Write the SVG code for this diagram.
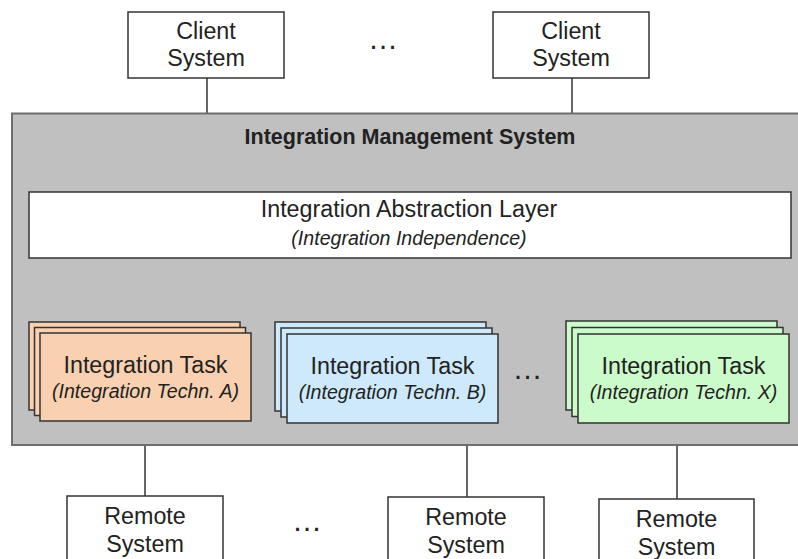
<svg xmlns="http://www.w3.org/2000/svg" width="798" height="559" viewBox="0 0 798 559">
  <style>
    text { font-family: "Liberation Sans", Arial, sans-serif; fill: #222; text-anchor: middle; }
    .lbl { font-size: 23.3px; }
    .sub { font-size: 19.6px; font-style: italic; }
    .title { font-size: 21.5px; font-weight: bold; }
    .dots { font-size: 30px; }
    .box { fill: #fff; stroke: #333; stroke-width: 1.5; }
    .wire { stroke: #333; stroke-width: 1.5; fill: none; }
    .card { stroke: #333; stroke-width: 1.5; }
    .orange { fill: #f9d1b0; }
    .blue { fill: #cde9fb; }
    .green { fill: #ccfbcb; }
  </style>

  <!-- connectors -->
  <g id="connectors">
    <line class="wire" x1="207" y1="78" x2="207" y2="114"/>
    <line class="wire" x1="572" y1="78" x2="572" y2="114"/>
    <line class="wire" x1="134" y1="258" x2="134" y2="322"/>
    <line class="wire" x1="380" y1="258" x2="380" y2="322"/>
    <line class="wire" x1="671" y1="258" x2="671" y2="321"/>
    <line class="wire" x1="145" y1="445" x2="145" y2="496"/>
    <line class="wire" x1="467" y1="445" x2="467" y2="497"/>
    <line class="wire" x1="677" y1="445" x2="677" y2="499"/>
  </g>

  <!-- client systems -->
  <g id="client1">
    <rect class="box" x="128" y="12" width="156" height="66"/>
    <text class="lbl" x="206" y="39">Client</text>
    <text class="lbl" x="206" y="66">System</text>
  </g>
  <text id="client-more" class="dots" x="383" y="49">…</text>
  <g id="client2">
    <rect class="box" x="493" y="12" width="156" height="66"/>
    <text class="lbl" x="571" y="39">Client</text>
    <text class="lbl" x="571" y="66">System</text>
  </g>

  <!-- management system container -->
  <g id="ims">
    <rect x="12" y="113.5" width="800" height="331.5" fill="#c0c0c0" stroke="#6e6e6e" stroke-width="2"/>
    <text class="title" x="410" y="144">Integration Management System</text>
  </g>

  <g id="abstraction-layer">
    <rect class="box" x="29" y="192" width="762" height="66"/>
    <text class="lbl" x="409" y="217">Integration Abstraction Layer</text>
    <text class="sub" x="409" y="245">(Integration Independence)</text>
  </g>

  <!-- integration tasks -->
  <g id="task-a">
    <rect class="card orange" x="29" y="322" width="211" height="88"/>
    <rect class="card orange" x="34.5" y="327.5" width="211" height="88"/>
    <rect class="card orange" x="40" y="333" width="211" height="88"/>
    <text class="lbl" x="145.5" y="373">Integration Task</text>
    <text class="sub" x="145.5" y="398">(Integration Techn. A)</text>
  </g>
  <g id="task-b">
    <rect class="card blue" x="275" y="322" width="211" height="89"/>
    <rect class="card blue" x="281" y="328" width="211" height="89"/>
    <rect class="card blue" x="287" y="334" width="211" height="89"/>
    <text class="lbl" x="392.5" y="374">Integration Task</text>
    <text class="sub" x="392.5" y="399">(Integration Techn. B)</text>
  </g>
  <text id="task-more" class="dots" x="527.5" y="379">…</text>
  <g id="task-x">
    <rect class="card green" x="566" y="321" width="211" height="89"/>
    <rect class="card green" x="572" y="327.5" width="211" height="89"/>
    <rect class="card green" x="578" y="334" width="211" height="89"/>
    <text class="lbl" x="683.5" y="374">Integration Task</text>
    <text class="sub" x="683.5" y="399">(Integration Techn. X)</text>
  </g>

  <!-- remote systems -->
  <g id="remote1">
    <rect class="box" x="67" y="496" width="156" height="80"/>
    <text class="lbl" x="145" y="524">Remote</text>
    <text class="lbl" x="145" y="552">System</text>
  </g>
  <text id="remote-more" class="dots" x="307" y="531">…</text>
  <g id="remote2">
    <rect class="box" x="388" y="497" width="156" height="80"/>
    <text class="lbl" x="466" y="525">Remote</text>
    <text class="lbl" x="466" y="553">System</text>
  </g>
  <g id="remote3">
    <rect class="box" x="599" y="499" width="155" height="80"/>
    <text class="lbl" x="676.5" y="527">Remote</text>
    <text class="lbl" x="676.5" y="555">System</text>
  </g>
</svg>
